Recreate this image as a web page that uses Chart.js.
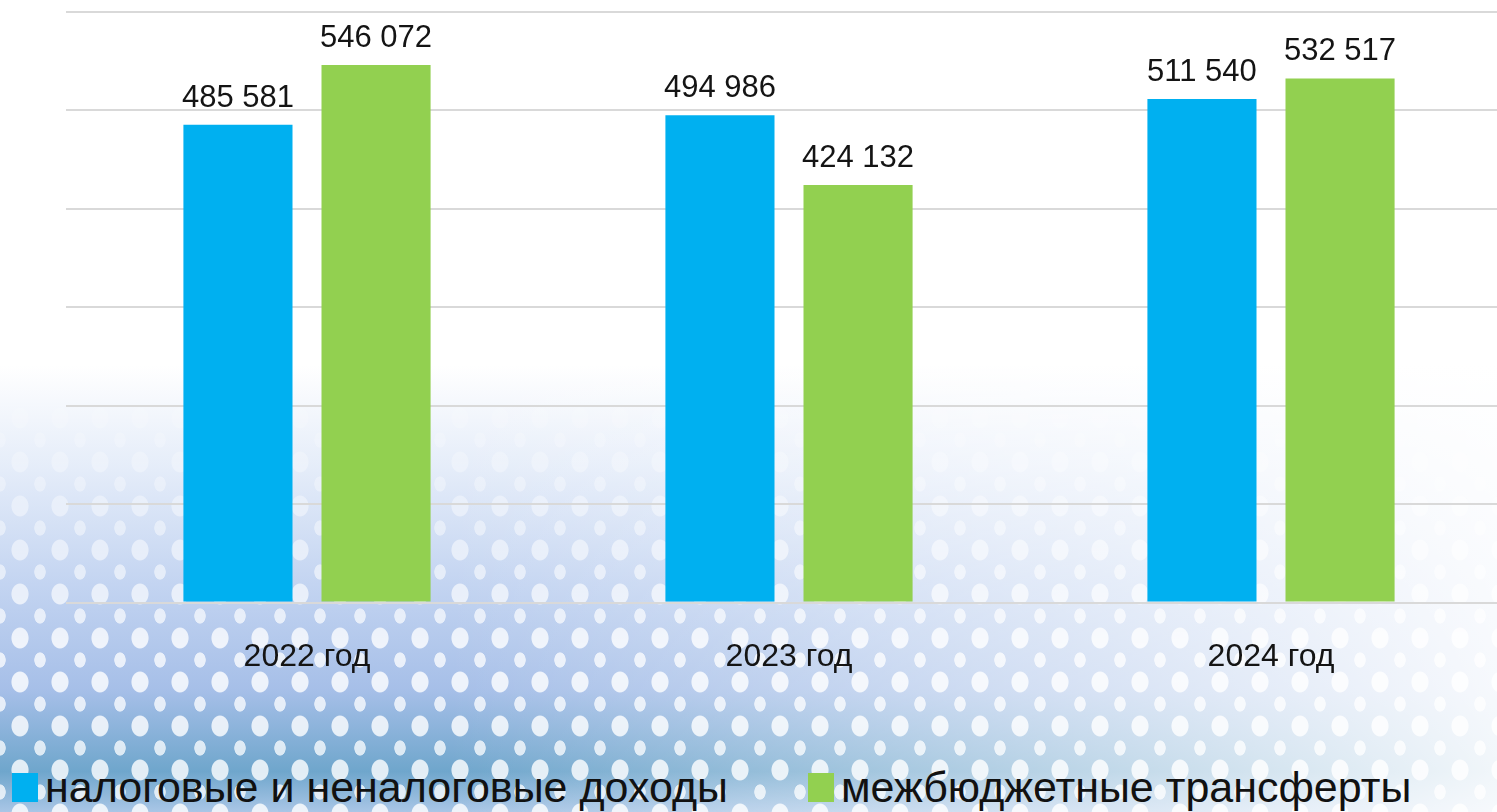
<!DOCTYPE html>
<html lang="ru">
<head>
<meta charset="utf-8">
<script src="https://cdn.jsdelivr.net/npm/chart.js@4.4.1/dist/chart.umd.min.js"></script>
<style>
    html, body {
        margin: 0;
        padding: 0;
        width: 1497px;
        height: 812px;
        overflow: hidden;
        font-family: "Liberation Sans", Arial, sans-serif;
    }
    body {
        position: relative;
        background:
            linear-gradient(to right, rgba(255,255,255,0) 30%, rgba(255,255,255,0.9) 100%),
            linear-gradient(to bottom, #ffffff 0%, #ffffff 45%, #e4ecf9 58%, #c3d4f1 72%, #a6bfe8 85%, #6fa6cc 95%, #a9c6e6 100%);
    }
    .dots {
        position: absolute;
        left: 0; top: 0; width: 1497px; height: 812px;
        background-image:
            radial-gradient(ellipse 9px 11px at 50% 50%, rgba(255,255,255,0.8) 90%, rgba(255,255,255,0) 100%),
            radial-gradient(ellipse 6px 8px at 50% 50%, rgba(255,255,255,0.75) 90%, rgba(255,255,255,0) 100%);
        background-size: 40px 44px, 40px 44px;
        background-position: 0 0, 20px 22px;
        -webkit-mask-image: linear-gradient(to bottom, rgba(0,0,0,0) 45%, rgba(0,0,0,0.5) 62%, rgba(0,0,0,1) 80%);
        mask-image: linear-gradient(to bottom, rgba(0,0,0,0) 45%, rgba(0,0,0,0.5) 62%, rgba(0,0,0,1) 80%);
    }
    .chart-wrap {
        position: absolute;
        left: 0;
        top: 0;
        width: 1515px;
        height: 720px;
    }
    #legend {
        position: absolute;
        top: 765px;
        left: 0;
        width: 1497px;
        height: 45px;
    }
    .legend-item {
        position: absolute;
        top: 0;
        display: flex;
        align-items: center;
        height: 45px;
        font-size: 43px;
        color: #111;
        white-space: pre;
    }
    .legend-box {
        width: 26px;
        height: 29px;
        margin-right: 7px;
    }
</style>
</head>
<body>
<div class="dots"></div>
<div class="chart-wrap"><canvas id="budgetChart"></canvas></div>
<div id="legend"></div>
<script>
const categories = ['2022 год', '2023 год', '2024 год'];
const seriesNames = ['налоговые и неналоговые доходы', 'межбюджетные трансферты'];
const taxIncome = [485581, 494986, 511540];
const transfers = [546072, 424132, 532517];
const yTicks = [0, 100000, 200000, 300000, 400000, 500000, 600000];

const colorBlue = '#00B0F0';
const colorGreen = '#92D050';
const legendLefts = [12, 808];

function formatNumber(v) {
    return String(v).replace(/\B(?=(\d{3})+(?!\d))/g, ' ');
}

// подписи значений над столбцами
const valueLabels = {
    id: 'valueLabels',
    afterDatasetsDraw(chart) {
        const ctx = chart.ctx;
        ctx.save();
        ctx.font = '31px "Liberation Sans", Arial, sans-serif';
        ctx.fillStyle = '#141414';
        ctx.textAlign = 'center';
        ctx.textBaseline = 'alphabetic';
        chart.data.datasets.forEach((ds, i) => {
            chart.getDatasetMeta(i).data.forEach((bar, j) => {
                ctx.fillText(formatNumber(ds.data[j]), bar.x, bar.y - 18);
            });
        });
        ctx.restore();
    }
};

const ctx = document.getElementById('budgetChart').getContext('2d');
const chart = new Chart(ctx, {
    type: 'bar',
    data: {
        labels: categories,
        datasets: [
            {
                label: seriesNames[0],
                data: taxIncome,
                backgroundColor: colorBlue,
                borderWidth: 0
            },
            {
                label: seriesNames[1],
                data: transfers,
                backgroundColor: colorGreen,
                borderWidth: 0
            }
        ]
    },
    options: {
        responsive: true,
        maintainAspectRatio: false,
        animation: false,
        categoryPercentage: 0.573,
        barPercentage: 0.79,
        layout: {
            padding: { left: 66, right: 3, top: 12, bottom: 17 }
        },
        plugins: {
            legend: { display: false },
            tooltip: { enabled: false }
        },
        scales: {
            x: {
                grid: { display: false },
                border: { display: false },
                ticks: {
                    color: '#141414',
                    padding: 27,
                    font: { family: '"Liberation Sans", Arial, sans-serif', size: 32 }
                }
            },
            y: {
                min: 0,
                max: yTicks[yTicks.length - 1],
                afterBuildTicks: (axis) => {
                    axis.ticks = yTicks.map(v => ({ value: v }));
                },
                grid: { color: '#d9d9d9', lineWidth: 2, drawTicks: false },
                border: { display: false },
                ticks: { display: false }
            }
        }
    },
    plugins: [valueLabels]
});

// легенда строится из наборов данных графика
const legendEl = document.getElementById('legend');
chart.options.plugins.legend.labels.generateLabels(chart).forEach((item, i) => {
    const el = document.createElement('div');
    el.className = 'legend-item';
    el.style.left = legendLefts[i] + 'px';
    const box = document.createElement('span');
    box.className = 'legend-box';
    box.style.background = item.fillStyle;
    const text = document.createElement('span');
    text.textContent = item.text;
    el.appendChild(box);
    el.appendChild(text);
    legendEl.appendChild(el);
});
</script>
</body>
</html>
